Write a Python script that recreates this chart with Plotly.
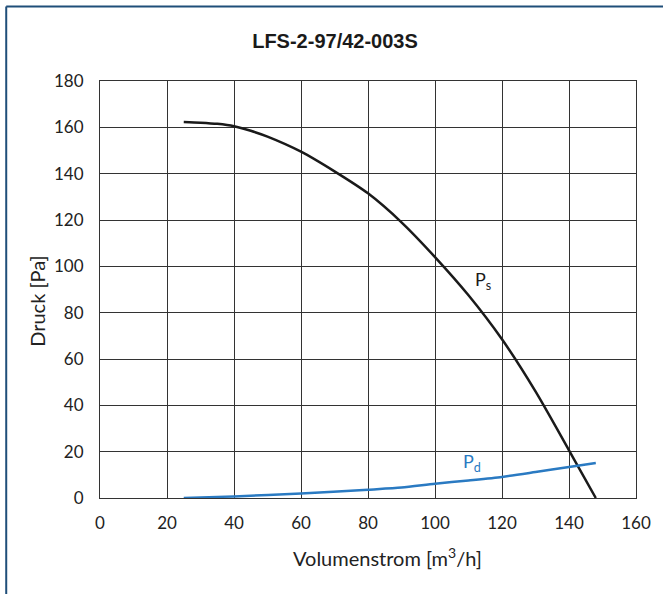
import plotly.graph_objects as go

# Data
ps_x = [25, 30, 35, 40, 45, 50, 60, 70, 80, 90, 100, 110, 120, 130, 140, 148]
ps_y = [162.3, 162.0, 161.5, 160.5, 158.5, 156.0, 149.5, 141.0, 131.5, 119.0, 104.0, 87.5, 68.5, 46.0, 20.6, 0.0]

pd_x = [25, 40, 60, 80, 90, 100, 110, 120, 130, 140, 148]
pd_y = [0, 0.7, 1.9, 3.6, 4.5, 6.2, 7.6, 9.1, 11.2, 13.4, 15.1]

x_ticks = [0, 20, 40, 60, 80, 100, 120, 140, 160]
y_ticks = [0, 20, 40, 60, 80, 100, 120, 140, 160, 180]

title_text = "LFS-2-97/42-003S"
x_title = "Volumenstrom [m<sup>3</sup>/h]"
y_title = "Druck [Pa]"

W, H = 663, 594
L, R, T, B = 100, 20, 81, 96
pw = W - L - R
ph = H - T - B

fig = go.Figure()
fig.add_trace(go.Scatter(x=ps_x, y=ps_y, mode="lines",
                         line=dict(color="#1a1a1a", width=2.5, shape="spline", smoothing=0.8),
                         showlegend=False, hoverinfo="skip"))
fig.add_trace(go.Scatter(x=pd_x, y=pd_y, mode="lines",
                         line=dict(color="#2a7ac2", width=2.5, shape="spline", smoothing=0.7),
                         showlegend=False, hoverinfo="skip"))

lab_font = "Lato, 'Open Sans', sans-serif"
fig.add_annotation(x=114.3, y=94, text="P<sub>s</sub>", showarrow=False,
                   font=dict(family=lab_font, size=18, color="#1a1a1a"))
fig.add_annotation(x=111, y=15.5, text="P<sub>d</sub>", showarrow=False,
                   font=dict(family=lab_font, size=18, color="#2a7ac2"))

# axis titles (placed as in the reference, slightly off-centre)
fig.add_annotation(xref="paper", yref="paper", x=(391 - L) / pw, y=-(557 - (H - B)) / ph,
                   xanchor="center", yanchor="middle", text=x_title, showarrow=False,
                   font=dict(family=lab_font, size=20, color="#222"))
fig.add_annotation(xref="paper", yref="paper", x=(36 - L) / pw, y=(H - B - 301) / ph,
                   xanchor="center", yanchor="middle", text=y_title, textangle=-90, showarrow=False,
                   font=dict(family=lab_font, size=20, color="#222"))

# outer border (top and left visible)
bx = (5 - L) / pw
by = (H - B - 6.5) / ph
fig.add_shape(type="line", xref="paper", yref="paper", x0=bx, x1=1.2, y0=by, y1=by,
              line=dict(color="#1f4e79", width=2))
fig.add_shape(type="line", xref="paper", yref="paper", x0=bx, x1=bx, y0=by, y1=-0.3,
              line=dict(color="#1f4e79", width=2))

fig.update_layout(
    width=W, height=H,
    margin=dict(l=L, r=R, t=T, b=B),
    paper_bgcolor="white", plot_bgcolor="white",
    title=dict(text="<b>" + title_text + "</b>", x=335 / W, xref="container", xanchor="center",
               y=1 - 41 / H, yanchor="middle",
               font=dict(family="'Liberation Sans Narrow', 'Arial Narrow', Arial, sans-serif",
                         size=20, color="#1a1a1a")),
    font=dict(family=lab_font, size=17, color="#222"),
)
fig.update_xaxes(range=[0, 160], tickvals=x_ticks, ticktext=[str(v) for v in x_ticks],
                 showgrid=True, gridcolor="#333", gridwidth=1, zeroline=False,
                 showline=True, linecolor="#333", linewidth=1, mirror=True, ticks="",
                 ticklabelstandoff=10, tickfont=dict(size=17))
fig.update_yaxes(range=[0, 180], tickvals=y_ticks, ticktext=[str(v) for v in y_ticks],
                 showgrid=True, gridcolor="#333", gridwidth=1, zeroline=False,
                 showline=True, linecolor="#333", linewidth=1, mirror=True, ticks="",
                 ticklabelstandoff=12, tickfont=dict(size=17))

fig.write_html("out.html", config={"displayModeBar": False},
               post_script="document.body.style.margin='0';document.body.style.padding='0';")
